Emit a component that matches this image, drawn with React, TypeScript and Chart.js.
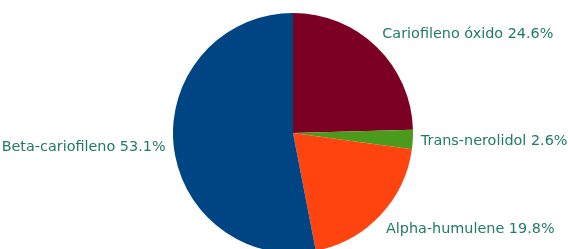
import React, { useEffect, useRef } from "react";
import { Chart, registerables } from "chart.js";

Chart.register(...registerables);

const categories = ["Cariofileno óxido", "Trans-nerolidol", "Alpha-humulene", "Beta-cariofileno"];
const values = [24.6, 2.6, 19.8, 53.1];
const colors = ["#7b0024", "#4c9a1c", "#ff4410", "#004583"];
const labelColor = "#1f7a68";

const labelPlugin = {
  id: "outerLabels",
  afterDatasetsDraw(chart: any) {
    const ctx = chart.ctx;
    const meta = chart.getDatasetMeta(0);
    ctx.save();
    ctx.font = '14.4px "DejaVu Sans"';
    ctx.fillStyle = labelColor;
    ctx.textBaseline = "middle";
    meta.data.forEach((arc: any, i: number) => {
      const p = arc.getProps(["x", "y", "startAngle", "endAngle", "outerRadius"], true);
      const mid = (p.startAngle + p.endAngle) / 2;
      const c = Math.cos(mid);
      const s = Math.sin(mid);
      const x = p.x + (p.outerRadius + 8) * c;
      const y = p.y + (p.outerRadius + 19) * s + 1;
      ctx.textAlign = c >= 0 ? "left" : "right";
      ctx.fillText(`${categories[i]} ${values[i].toFixed(1)}%`, x, y);
    });
    ctx.restore();
  },
};

export default function App() {
  const ref = useRef<HTMLCanvasElement | null>(null);
  useEffect(() => {
    if (!ref.current) return;
    const chart = new Chart(ref.current, {
      type: "pie",
      data: {
        labels: categories,
        datasets: [
          {
            data: values,
            backgroundColor: colors,
            borderWidth: 0,
          },
        ],
      },
      options: {
        animation: false,
        responsive: false,
        maintainAspectRatio: false,
        radius: 120,
        layout: { padding: { left: 18, right: 0, top: 17, bottom: 0 } },
        plugins: { legend: { display: false }, tooltip: { enabled: false } },
      } as any,
      plugins: [labelPlugin],
    });
    return () => chart.destroy();
  }, []);
  return (
    <div style={{ position: "fixed", left: 0, top: 0, width: 568, height: 249, background: "#fff" }}>
      <canvas ref={ref} width={568} height={249} style={{ width: 568, height: 249, display: "block" }} />
    </div>
  );
}
